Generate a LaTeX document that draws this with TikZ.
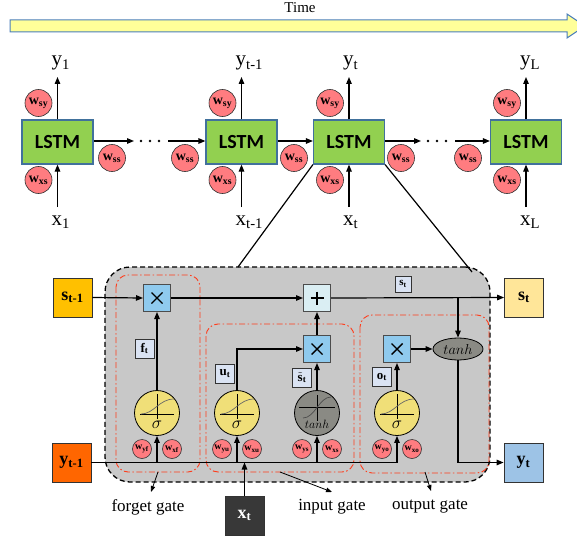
\documentclass[tikz,border=0pt]{standalone}
\usepackage{fontspec}
\setmainfont{Liberation Serif}
\newfontfamily\lstmfont{Carlito}
\usetikzlibrary{arrows.meta,shapes.geometric}
\definecolor{lstmgreen}{HTML}{92D050}
\definecolor{lstmborder}{HTML}{41719C}
\definecolor{wred}{HTML}{FF7C80}
\definecolor{timey}{HTML}{FFFF99}
\definecolor{timeb}{HTML}{4A7EBB}
\definecolor{cellgray}{HTML}{C8C8C8}
\definecolor{mulblue}{HTML}{8FCAEE}
\definecolor{pluslight}{HTML}{DAEEF3}
\definecolor{lablav}{HTML}{DAE3F3}
\definecolor{sigy}{HTML}{F0DF78}
\definecolor{tanhg}{HTML}{8A8A84}
\definecolor{gatered}{HTML}{FF3B1A}
\definecolor{stm}{HTML}{FFC000}
\definecolor{ytm}{HTML}{FF6600}
\definecolor{xtc}{HTML}{383838}
\definecolor{stc}{HTML}{FFE699}
\definecolor{ytc}{HTML}{9DC3E6}
\newcommand{\wl}[1]{\textbf{w}\textsubscript{\textbf{#1}}}
\newcommand{\bsub}[2]{\textbf{#1}\textsubscript{\textbf{#2}}}
\newcommand{\tildes}{$\tilde{\mbox{\textbf{s}}}$}
\begin{document}
\begin{tikzpicture}[x=1pt,y=-1pt,
  lstm/.style={draw=lstmborder, line width=1.2pt, fill=lstmgreen, minimum width=71pt, minimum height=44pt, inner sep=0pt, font=\lstmfont\bfseries\fontsize{20}{20}\selectfont},
  wbig/.style={circle, draw=black!80, fill=wred, minimum size=27pt, inner sep=0pt, line width=0.6pt, font=\fontsize{14}{14}\selectfont},
  wsmall/.style={circle, draw=black!80, fill=wred, minimum size=19pt, inner sep=0pt, line width=0.6pt, font=\fontsize{10}{10}\selectfont},
  arr/.style={-{Triangle[length=7pt,width=5.5pt]}, line width=1.2pt},
  thinarr/.style={-{Triangle[length=6pt,width=4.5pt]}, line width=0.8pt},
  io/.style={draw=black!80, minimum size=39pt, inner sep=0pt, line width=0.8pt, font=\fontsize{18}{18}\selectfont},
  opbox/.style={draw=black!70, minimum size=27pt, inner sep=0pt, line width=1pt},
  lab/.style={draw=black!80, fill=lablav, minimum size=19pt, inner sep=0pt, line width=0.6pt, font=\fontsize{13}{13}\selectfont},
  gatefn/.style={circle, draw=black, minimum size=45pt, inner sep=0pt, line width=0.8pt},
  gatebox/.style={draw=gatered, dash pattern=on 6pt off 2.5pt on 1.5pt off 2.5pt, line width=0.9pt, rounded corners=12pt},
  seqlab/.style={font=\fontsize{21}{21}\selectfont, inner sep=0pt},
  gatelab/.style={font=\fontsize{17}{17}\selectfont, inner sep=0pt}]
\useasboundingbox (0,0) rectangle (577,540);
\clip (0,0) rectangle (577,540);

% time arrow
\node[font=\fontsize{15}{15}\selectfont] (time) at (300,8) {Time};
\draw[draw=timeb, fill=timey, line width=1pt] (10,20) -- (567,20) -- (567,14) -- (585,26) -- (567,38) -- (567,32) -- (10,32) -- cycle;

% LSTM chain
\node[lstm] (L1) at (57.5,142) {LSTM};
\node[lstm] (L2) at (241.5,142) {LSTM};
\node[lstm] (L3) at (349,142) {LSTM};
\node[lstm] (L4) at (526,142) {LSTM};

\node[seqlab, anchor=base west] (y1) at (51.5,66) {y\textsubscript{1}};
\node[seqlab, anchor=base west] (y2) at (235.5,66) {y\textsubscript{t-1}};
\node[seqlab, anchor=base west] (y3) at (343,66) {y\textsubscript{t}};
\node[seqlab, anchor=base west] (y4) at (520,66) {y\textsubscript{L}};
\node[seqlab, anchor=base west] (x1) at (51.5,225) {x\textsubscript{1}};
\node[seqlab, anchor=base west] (x2) at (235.5,225) {x\textsubscript{t-1}};
\node[seqlab, anchor=base west] (x3) at (343,225) {x\textsubscript{t}};
\node[seqlab, anchor=base west] (x4) at (520,225) {x\textsubscript{L}};

\foreach \n in {1,2,3,4}{
  \draw[arr] (L\n.north) -- (L\n.north |- 0,77);
  \draw[arr] (L\n.south |- 0,207) -- (L\n.south);
}

\node[wbig] (wsy1) at (38.5,103) {\wl{sy}};
\node[wbig] (wsy2) at (222.5,103) {\wl{sy}};
\node[wbig] (wsy3) at (330,103) {\wl{sy}};
\node[wbig] (wsy4) at (507,103) {\wl{sy}};
\node[wbig] (wxs1) at (38.5,180) {\wl{xs}};
\node[wbig] (wxs2) at (222.5,180) {\wl{xs}};
\node[wbig] (wxs3) at (330,180) {\wl{xs}};
\node[wbig] (wxs4) at (507,180) {\wl{xs}};
\node[wbig] (wss1) at (112,158) {\wl{ss}};
\node[wbig] (wss2) at (185,158) {\wl{ss}};
\node[wbig] (wss3) at (294,158) {\wl{ss}};
\node[wbig] (wss4) at (401,158) {\wl{ss}};
\node[wbig] (wss5) at (468,158) {\wl{ss}};

\coordinate (d1a) at (134,141);
\coordinate (d1b) at (168,141);
\coordinate (d2a) at (421,141);
\coordinate (d2b) at (455,141);
\draw[arr] (L1.east |- d1a) -- (d1a);
\draw[arr] (d1b) -- (L2.west |- d1b);
\draw[arr] (L2.east |- d1a) -- (L3.west |- d1a);
\draw[arr] (L3.east |- d2a) -- (d2a);
\draw[arr] (d2b) -- (L4.west |- d2b);
\foreach \xx in {141,150,159,428,437,446} \fill (\xx,141) circle (1.3pt);

% cell
\node[draw, dash pattern=on 5pt off 3pt, line width=1.3pt, fill=cellgray, rounded corners=25pt, minimum width=385pt, minimum height=215pt, inner sep=0pt] (cell) at (297.5,374.5) {};
\coordinate (cl) at (238,267);
\coordinate (cr) at (472,272);
\draw[line width=1.2pt] (L3.south west) -- (cl);
\draw[line width=1.2pt] (L3.south east) -- (cr);

% gate boxes
\draw[gatebox] (116,275) rectangle (200,472);
\draw[gatebox] (206,324) rectangle (354,472);
\draw[gatebox] (360,315) rectangle (489,473);

% outer IO boxes
\node[io, fill=stm] (st1) at (72.5,297.5) {\bsub{s}{t-1}};
\node[io, fill=ytm] (yt1) at (71.5,462.5) {\bsub{y}{t-1}};
\node[io, fill=xtc, text=white] (xt) at (244.5,515.5) {\bsub{x}{t}};
\node[io, fill=stc] (st) at (524,297.5) {\bsub{s}{t}};
\node[io, fill=ytc] (yt) at (523.5,462.5) {\bsub{y}{t}};

% operators
\node[opbox, fill=mulblue] (fmul) at (157,298) {};
\node[opbox, fill=pluslight] (plus) at (317,298) {};
\node[opbox, fill=mulblue] (imul) at (317,349) {};
\node[opbox, fill=mulblue] (omul) at (397,349) {};
\foreach \m in {fmul,imul,omul}{
  \begin{scope}[shift={(\m.center)}]
    \draw[line width=1.4pt] (-5.5,-5.5) -- (5.5,5.5) (-5.5,5.5) -- (5.5,-5.5);
  \end{scope}
}
\begin{scope}[shift={(plus.center)}]
  \draw[line width=1.4pt] (-6.5,0) -- (6.5,0) (0,-6.5) -- (0,6.5);
\end{scope}
\node[ellipse, draw=black, fill=tanhg, minimum width=50pt, minimum height=22pt, inner sep=0pt, line width=0.8pt, font=\fontsize{14}{14}\selectfont] (ell) at (458,349) {$tanh$};

% gate functions
\node[gatefn, fill=sigy] (fsig) at (157,413) {};
\node[gatefn, fill=sigy] (usig) at (237,413) {};
\node[gatefn, fill=tanhg] (tsig) at (317,413) {};
\node[gatefn, fill=sigy] (osig) at (397,413) {};
\foreach \g in {fsig,usig,osig}{
  \begin{scope}[shift={(\g.center)}]
    \draw[line width=0.8pt] (-17,1) -- (17,1);
    \draw[line width=0.8pt] (0,-19) -- (0,6);
    \draw[black!60, line width=0.7pt] (-16,1) .. controls (-3,1) and (2,-14) .. (17,-14);
    \node[font=\fontsize{16}{16}\selectfont, inner sep=0pt] at (0,12) {$\sigma$};
  \end{scope}
}
\begin{scope}[shift={(tsig.center)}]
  \draw[line width=0.8pt] (-18,-6) -- (18,-6);
  \draw[line width=0.8pt] (0,-18) -- (0,8);
  \draw[black!70, line width=0.7pt] (-14,5) .. controls (-2,5) and (2,-16) .. (14,-16);
  \node[font=\fontsize{13}{13}\selectfont, inner sep=0pt] at (0,11) {$tanh$};
\end{scope}

% weights
\node[wsmall] (wyf) at (142,449) {\wl{yf}};
\node[wsmall] (wxf) at (172,449) {\wl{xf}};
\node[wsmall] (wyu) at (222,449) {\wl{yu}};
\node[wsmall] (wxu) at (252,449) {\wl{xu}};
\node[wsmall] (wys) at (302,449) {\wl{ys}};
\node[wsmall] (wxs) at (332,449) {\wl{xs}};
\node[wsmall] (wyo) at (382,449) {\wl{yo}};
\node[wsmall] (wxo) at (412,449) {\wl{xo}};

% small labels
\node[lab] (ft) at (144.5,348.5) {\bsub{f}{t}};
\node[lab] (ut) at (225,373.5) {\bsub{u}{t}};
\node[lab] (stl) at (302,377.5) {\tildes\textsubscript{\textbf{t}}};
\node[lab] (ot) at (382,377) {\bsub{o}{t}};
\node[lab, minimum size=16pt, font=\fontsize{11}{11}\selectfont] (stt) at (403,284) {\bsub{s}{t}};

% connectors
\draw[arr] (st1.east) -- (fmul.west);
\draw[arr] (fmul.east) -- (plus.west);
\draw[arr] (plus.east) -- (st.west);
\coordinate (br) at (458,298);
\draw[arr] (br) -- (ell.north);
\draw[arr] (fsig.north) -- (fmul.south);
\draw[arr] (usig.north) |- (imul.west);
\draw[arr] (tsig.north) -- (imul.south);
\draw[arr] (imul.north) -- (plus.south);
\draw[arr] (osig.north) -- (omul.south);
\draw[arr] (omul.east) -- (ell.west);
\draw[arr] (ell.south) |- (yt.west);
\draw[arr] (yt1.east) -| (osig.south);
\draw[arr] (fsig.south |- yt1.east) -- (fsig.south);
\draw[arr] (usig.south |- yt1.east) -- (usig.south);
\draw[arr] (tsig.south |- yt1.east) -- (tsig.south);
\draw[arr] (xt.north) -- (xt.north |- yt1.east);

% gate labels
\node[gatelab] (fgl) at (148,507) {forget gate};
\node[gatelab] (igl) at (332,507) {input gate};
\node[gatelab] (ogl) at (430,507) {output gate};
\coordinate (fga) at (158,472);
\coordinate (fgb) at (151,492);
\coordinate (iga) at (280,472);
\coordinate (igb) at (332,492);
\coordinate (oga) at (425,472);
\coordinate (ogb) at (431,491);
\draw[thinarr] (fga) -- (fgb);
\draw[thinarr] (iga) -- (igb);
\draw[thinarr] (oga) -- (ogb);
\end{tikzpicture}
\end{document}
